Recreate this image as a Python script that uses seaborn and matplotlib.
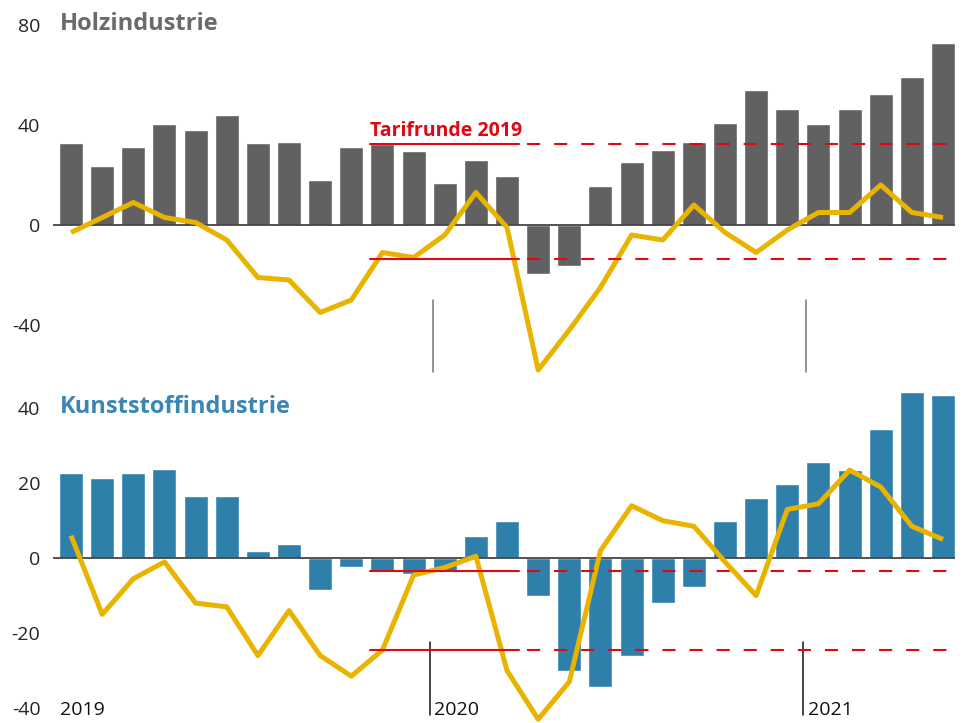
import numpy as np
import pandas as pd
import matplotlib
matplotlib.use("Agg")
import matplotlib.pyplot as plt
import seaborn as sns

# Monate Jan 2019 - Mai 2021
monate = [str(p) for p in pd.period_range("2019-01", "2021-05", freq="M")]

holz_balken = [33, 23.6, 31.2, 40.4, 38, 44, 32.8, 33.2, 18, 31.2, 32.4, 29.6,
               16.8, 26, 19.6, -19.6, -16.4, 15.6, 25.2, 30, 33.2, 40.8, 54, 46.4,
               40.4, 46.4, 52.4, 59.2, 72.8]
holz_linie = [-3, 3, 9, 3, 1, -6, -21, -22, -35, -30, -11, -13, -4, 13, -1,
              -58, -42, -25, -4, -6, 8, -3, -11, -2, 5, 5, 16, 5, 3]

kunst_balken = [22.7, 21.4, 22.7, 23.8, 16.6, 16.6, 1.9, 3.8, -8.4, -2.3, -3.5, -4.1,
                -3.3, 6, 10, -10, -30, -34.5, -26.2, -12.1, -7.6, 9.9, 16.1, 19.8,
                25.7, 23.5, 34.5, 44.4, 43.6]
kunst_linie = [6, -15, -5.5, -1, -12, -13, -26, -14, -26, -31.5, -24.5, -4.5,
               -2.5, 0.5, -30, -43, -33, 2, 14, 10, 8.5, -1, -10, 13, 14.5, 23.5,
               19, 8.5, 5]

tarif_holz = [32.3, -13.5]
tarif_kunst = [-3.4, -24.6]
jahre = ["2019", "2020", "2021"]
jahr_start = [0, 12, 24]

GRAU = "#616161"
BLAU = "#2f7fab"
GELB = "#e8b400"
ROT = "#e30613"

sns.set_style("white")
plt.rcParams["font.family"] = ["Open Sans", "DejaVu Sans"]

df = pd.DataFrame({"i": np.arange(len(monate)), "monat": monate,
                   "holz_b": holz_balken, "holz_l": holz_linie,
                   "kunst_b": kunst_balken, "kunst_l": kunst_linie})

fig = plt.figure(figsize=(9.65, 7.23), dpi=100)
W, H = 965, 723
ax1 = fig.add_axes([53 / W, (H - 375) / H, 902 / W, 360 / H])
ax2 = fig.add_axes([53 / W, 0, 902 / W, (H - 385.8) / H])

bw = 0.77
xlim = (-0.58, len(monate) - 1 + bw / 2)

def panel(ax, bar_col, line_col, farbe, ylim, ticks, tarif, vl_range, vl_color, vl_shift):
    sns.barplot(data=df, x="i", y=bar_col, color=farbe, saturation=1,
                width=bw, ax=ax, zorder=2)
    sns.lineplot(data=df, x="i", y=line_col, color=GELB, lw=3.6, ax=ax,
                 zorder=4, solid_capstyle="butt")
    ax.axhline(0, color="#444444", lw=1.3, zorder=3)
    # Tarifrunde: durchgezogen, dann gestrichelt
    x0, x1 = 10 - bw / 2, 14 + bw / 2
    for y in tarif:
        ax.plot([x0, x1], [y, y], color=ROT, lw=1.5, zorder=5)
        ax.plot([14.65, xlim[1]], [y, y], color=ROT, lw=1.5, zorder=5,
                linestyle=(0, (6.3, 6.7)))
    for s in jahr_start[1:]:
        xv = s - bw / 2 + vl_shift
        ax.plot([xv, xv], vl_range, color=vl_color, lw=1.1, zorder=1)
    ax.set_xlim(*xlim)
    ax.set_ylim(*ylim)
    ax.set_yticks(ticks)
    ax.set_yticklabels([str(t) for t in ticks], fontsize=14)
    ax.tick_params(axis="y", length=0, pad=9)
    ax.set_xticks([])
    ax.set_xlabel("")
    ax.set_ylabel("")
    sns.despine(ax=ax, left=True, bottom=True)
    ax.patch.set_alpha(0)

panel(ax1, "holz_b", "holz_l", GRAU, (-60, 84), [-40, 0, 40, 80], tarif_holz,
      [-30, -58.8], "#777777", 0.0)
panel(ax2, "kunst_b", "kunst_l", BLAU, (-44, 46), [-40, -20, 0, 20, 40], tarif_kunst,
      [-22.3, -41.8], "#111111", -0.1)

ax1.text(-0.35, 80.5, "Holzindustrie", color="#6b6b6b", fontsize=17,
         fontweight="bold", va="center", ha="left")
ax2.text(-0.35, 40.3, "Kunststoffindustrie", color="#3a87b5", fontsize=17,
         fontweight="bold", va="center", ha="left")
ax1.text(10 - bw / 2, 37.6, "Tarifrunde 2019", color=ROT, fontsize=14,
         fontweight="bold", va="center", ha="left")

for j, s in zip(jahre, jahr_start):
    xs = -0.35 if s == 0 else s - bw / 2 + 0.05
    ax2.text(xs, -40.5, j, fontsize=14, va="center", ha="left", color="#111111")

fig.savefig("out.png", dpi=100)
